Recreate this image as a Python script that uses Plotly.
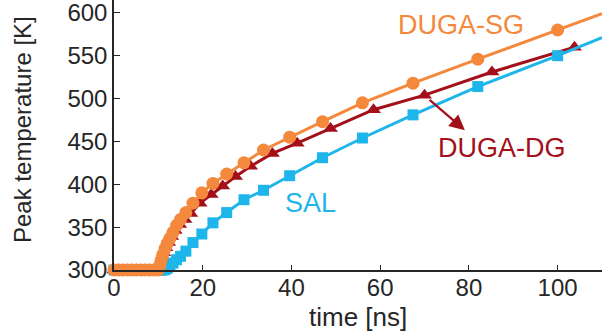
import plotly.graph_objects as go

# ---- data ----
flat_t = [0, 1, 2, 3, 4, 5, 6, 7, 8, 9, 10]
flat_T = [300] * 11

t_sg = [10.3, 10.6, 11.0, 11.5, 12.0, 12.6, 13.3, 14.1, 15.0, 16.2, 17.8, 19.8, 22.3, 25.4,
        29.3, 33.7, 39.6, 47.0, 56.0, 67.4, 82.0, 100.0]
T_sg = [305, 311, 318, 325, 331, 337, 344, 352, 359, 367, 378, 390, 401, 412,
        425, 440, 455, 473, 495, 518, 546, 580]
t_sg_end = [110.0]
T_sg_end = [599]

t_sal = t_sg
T_sal = [300, 300, 300, 300.5, 302, 304, 308, 312, 316, 322, 332, 342, 355, 367,
         382, 393, 410, 431, 454, 481, 514, 550]
T_sal_end = [571]

t_dg = [10.2, 10.5, 10.8, 11.2, 11.7, 12.3, 13.0, 13.8, 14.8, 16.0, 17.3, 19.4, 21.9, 24.5,
        27.4, 30.8, 35.7, 41.3, 48.8, 58.5, 70.0, 85.2, 103.8]
T_dg = [302, 307, 313, 320, 326, 332, 339, 346, 353, 359, 366, 378, 388, 398,
        409, 421, 436, 448, 465, 487, 504, 531, 560]

x_ticks = [0, 20, 40, 60, 80, 100]
y_ticks = [300, 350, 400, 450, 500, 550, 600]

C_SG = "#F4883C"
C_DG = "#A3101A"
C_SAL = "#1EB6EA"
C_AX = "#262626"
FONT = "Liberation Sans, Arial, sans-serif"

fig = go.Figure()

# DUGA-DG (bottom)
fig.add_trace(go.Scatter(x=flat_t + t_dg, y=flat_T + T_dg, mode="lines+markers",
                         line=dict(color=C_DG, width=3),
                         marker=dict(symbol="triangle-up", size=13, color=C_DG),
                         cliponaxis=False, showlegend=False))
# SAL
fig.add_trace(go.Scatter(x=flat_t + t_sal + t_sg_end, y=flat_T + T_sal + T_sal_end, mode="lines",
                         line=dict(color=C_SAL, width=3), cliponaxis=False, showlegend=False))
fig.add_trace(go.Scatter(x=flat_t + t_sal, y=flat_T + T_sal, mode="markers",
                         marker=dict(symbol="square", size=11, color=C_SAL),
                         cliponaxis=False, showlegend=False))
# DUGA-SG (top)
fig.add_trace(go.Scatter(x=flat_t + t_sg + t_sg_end, y=flat_T + T_sg + T_sg_end, mode="lines",
                         line=dict(color=C_SG, width=3), cliponaxis=False, showlegend=False))
fig.add_trace(go.Scatter(x=flat_t + t_sg, y=flat_T + T_sg, mode="markers",
                         marker=dict(symbol="circle", size=13, color=C_SG),
                         cliponaxis=False, showlegend=False))

fig.add_annotation(x=78.3, y=586, text="DUGA-SG", showarrow=False,
                   font=dict(family=FONT, size=27, color=C_SG))
fig.add_annotation(x=87.4, y=442, text="DUGA-DG", showarrow=False,
                   font=dict(family=FONT, size=27, color=C_DG))
fig.add_annotation(x=44.3, y=378, text="SAL", showarrow=False,
                   font=dict(family=FONT, size=27, color=C_SAL))
fig.add_annotation(x=79.1, y=463, ax=70.8, ay=500, axref="x", ayref="y", text="",
                   showarrow=True, arrowhead=2, arrowsize=1.4, arrowwidth=2.2, arrowcolor=C_DG)

# axis titles
fig.add_annotation(xref="paper", yref="paper", x=(358 - 114) / 488, y=(270 - 317) / 270,
                   xanchor="center", yanchor="middle", text="time [ns]", showarrow=False,
                   font=dict(family=FONT, size=26, color=C_AX))
fig.add_annotation(xref="paper", yref="paper", x=(22 - 114) / 488, y=(270 - 130) / 270,
                   xanchor="center", yanchor="middle", text="Peak temperature [K]", textangle=-90,
                   showarrow=False, font=dict(family=FONT, size=24, color=C_AX))

axis_common = dict(showline=True, linecolor=C_AX, linewidth=1.5, ticks="inside",
                   tickcolor=C_AX, tickwidth=1.2, showgrid=False, zeroline=False,
                   ticklabeloverflow="allow",
                   tickfont=dict(family=FONT, size=24, color=C_AX))

fig.update_xaxes(range=[0, 110], tickvals=x_ticks, ticklen=5, ticklabelstandoff=-5, **axis_common)
fig.update_yaxes(range=[300, 615], tickvals=y_ticks, ticklen=6, **axis_common)

fig.update_layout(width=602, height=332, margin=dict(l=114, r=0, t=0, b=62),
                  plot_bgcolor="white", paper_bgcolor="white")

fig.write_html("out.html")
